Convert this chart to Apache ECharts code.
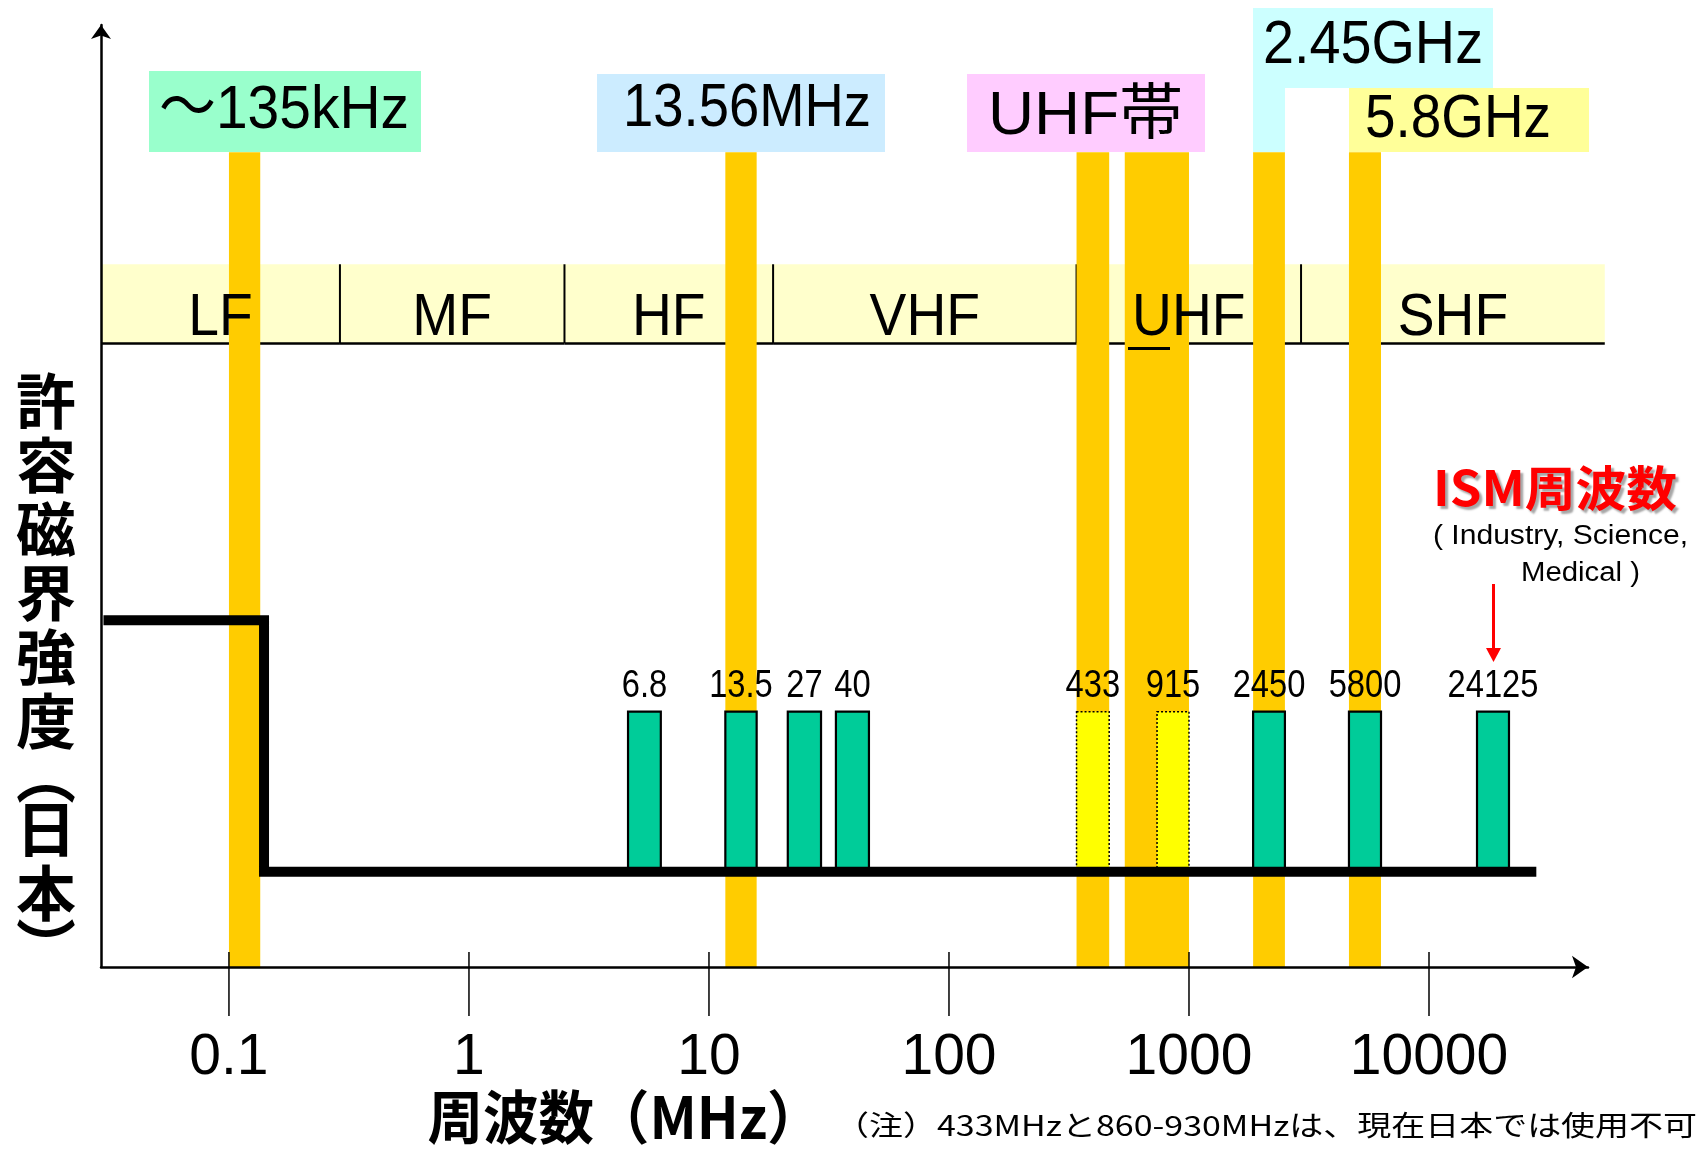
<!DOCTYPE html>
<html><head><meta charset="utf-8">
<script src="https://cdn.jsdelivr.net/npm/echarts@6/dist/echarts.min.js"></script>
<style>html,body{margin:0;padding:0;background:#fff}#c{width:1703px;height:1150px}</style>
</head><body><div id="c"></div>
<script>
// ---------------- data (frequencies in MHz) ----------------
const tickValues = [0.1, 1, 10, 100, 1000, 10000];
const tickLabels = ['0.1', '1', '10', '100', '1000', '10000'];
const xRange = [0.0293, 45970];

const bandNames = ['LF', 'MF', 'HF', 'VHF', 'UHF', 'SHF'];
const bandEdges = [0.0293, 0.29, 2.5, 18.5, 340, 2930, 54000];

const rfidLo = [0.1, 11.7, 340, 540, 1850, 4640];
const rfidHi = [0.135, 15.8, 465, 1000, 2510, 6310];

const ismLabels = ['6.8', '13.5', '27', '40', '433', '915', '2450', '5800', '24125'];
const ismLo = [4.6, 11.7, 21.3, 33.8, 340, 736, 1850, 4640, 15850];
const ismHi = [6.3, 15.8, 29.3, 46.4, 465, 1000, 2510, 6310, 21540];
const ismUsableInJapan = [1, 1, 1, 1, 0, 0, 1, 1, 1];

const limitFreq = [0.03, 0.14, 0.14, 28000];
const limitLevel = [36.8, 36.8, 10.1, 10.1];

const ismTop = 27.1;
const rfidTop = 86.5;
const rowTop = 74.6;
const rowBottom = 66.2;

const calloutTexts = ['～135kHz', '13.56MHz', 'UHF帯', '2.45GHz', '5.8GHz'];
const yTitleChars = ['許', '容', '磁', '界', '強', '度', '︵', '日', '本', '︶'];
const xTitle = '周波数（MHz）';
const noteText = '（注）433MHzと860-930MHzは、現在日本では使用不可';
const ismTitle = 'ISM周波数';
const ismSub1 = '( Industry, Science,';
const ismSub2 = 'Medical )';

// ---------------- helpers ----------------
const LAT = '"Liberation Sans", "Noto Sans CJK JP", sans-serif';
const CJK = '"Noto Sans CJK JP", "Liberation Sans", sans-serif';
const mctx = document.createElement('canvas').getContext('2d');
function fit(text, font, width) { mctx.font = font; return width / mctx.measureText(text).width; }
function txt(text, x, y, size, family, weight, width, extra) {
  const font = (weight || 'normal') + ' ' + size + 'px ' + family;
  const sx = width ? fit(text, font, width) : 1;
  return Object.assign({ type: 'text', x: x, y: y, scaleX: sx, z: 100,
    style: Object.assign({ text: text, font: font, fill: '#000', align: 'center', verticalAlign: 'middle' }, extra || {}) });
}

const chart = echarts.init(document.getElementById('c'), null, { renderer: 'canvas' });

const regionData = bandNames.map((n, i) => [bandEdges[i], bandEdges[i + 1], i]);
const rfidData = rfidLo.map((lo, i) => [lo, rfidHi[i], i]);
const ismData = ismLo.map((lo, i) => [lo, ismHi[i], i]);

const option = {
  animation: false,
  backgroundColor: '#fff',
  grid: { left: 101, right: 115, top: 25, bottom: 183, containLabel: false, outerBoundsMode: 'none' },
  xAxis: {
    type: 'log', logBase: 10, min: xRange[0], max: xRange[1], z: 10,
    axisLine: { show: true, symbol: ['none', 'arrow'], symbolSize: [17, 16], lineStyle: { color: '#000', width: 2.5 } },
    axisTick: { show: false }, splitLine: { show: false }, minorTick: { show: false },
    axisLabel: {
      show: true, margin: 63, fontSize: 57, fontFamily: LAT, color: '#000',
      formatter: function (v) {
        const e = Math.log10(v); const r = Math.round(e);
        if (Math.abs(e - r) > 1e-6) return '';
        const k = tickValues.findIndex(t => Math.abs(Math.log10(t) - r) < 1e-6);
        return k >= 0 ? tickLabels[k] : '';
      }
    }
  },
  yAxis: {
    type: 'value', min: 0, max: 100, z: 10,
    axisLine: { show: true, symbol: ['none', 'arrow'], symbolSize: [15, 14], lineStyle: { color: '#000', width: 2.5 } },
    axisTick: { show: false }, axisLabel: { show: false }, splitLine: { show: false }
  },
  series: [
    { // band row background + separators
      type: 'custom', z: 1, silent: true, data: regionData, encode: { x: [0, 1] },
      renderItem: function (params, api) {
        const i = api.value(2);
        const p0 = api.coord([api.value(0), rowTop]);
        const p1 = api.coord([api.value(1), rowBottom]);
        const ch = [
          { type: 'rect', shape: { x: p0[0], y: p0[1], width: p1[0] - p0[0], height: p1[1] - p0[1] }, style: { fill: '#FFFFCC' } },
          { type: 'line', shape: { x1: p0[0], y1: p1[1], x2: p1[0], y2: p1[1] }, style: { stroke: '#000', lineWidth: 2.5 } }
        ];
        if (i > 0) ch.push({ type: 'line', shape: { x1: p0[0], y1: p0[1], x2: p0[0], y2: p1[1] }, style: { stroke: '#000', lineWidth: 2 } });
        return { type: 'group', children: ch };
      }
    },
    { // RFID frequency columns
      type: 'custom', z: 2, silent: true, data: rfidData, encode: { x: [0, 1] },
      renderItem: function (params, api) {
        const p0 = api.coord([api.value(0), rfidTop]);
        const p1 = api.coord([api.value(1), 0]);
        return { type: 'rect', shape: { x: p0[0], y: p0[1], width: p1[0] - p0[0], height: p1[1] - p0[1] }, style: { fill: '#FFCC00' } };
      }
    },
    { // band names
      type: 'custom', z: 3, silent: true, data: regionData, encode: { x: [0, 1] },
      renderItem: function (params, api) {
        const i = api.value(2);
        const p0 = api.coord([api.value(0), rowTop]);
        const p1 = api.coord([api.value(1), rowBottom]);
        return { type: 'text', x: (p0[0] + p1[0]) / 2, y: p1[1] - 24.5, scaleX: 0.92,
          style: { text: bandNames[i], font: 'normal 60px ' + LAT, fill: '#000', align: 'center', verticalAlign: 'middle' } };
      }
    },
    { // ISM bars
      type: 'custom', z: 4, silent: true, data: ismData, encode: { x: [0, 1] },
      renderItem: function (params, api) {
        const i = api.value(2);
        const p0 = api.coord([api.value(0), ismTop]);
        const p1 = api.coord([api.value(1), limitLevel[2]]);
        const ok = ismUsableInJapan[i];
        return { type: 'group', children: [
          { type: 'rect', shape: { x: p0[0], y: p0[1], width: p1[0] - p0[0], height: p1[1] - p0[1] },
            style: { fill: ok ? '#00CC99' : '#FFFF00', stroke: '#000', lineWidth: ok ? 2.2 : 1.5, lineDash: ok ? null : [2, 2] } },
          { type: 'text', x: (p0[0] + p1[0]) / 2, y: p0[1] - 25, scaleX: 0.86,
            style: { text: ismLabels[i], font: 'normal 38px ' + LAT, fill: '#000', align: 'center', verticalAlign: 'middle' } }
        ] };
      }
    },
    { // allowed field strength limit
      type: 'line', z: 5, silent: true, symbol: 'none', showSymbol: false,
      data: limitFreq.map((f, i) => [f, limitLevel[i]]),
      lineStyle: { color: '#000', width: 10, cap: 'butt', join: 'miter' }
    },
    { // axis ticks (crossing the axis line)
      type: 'custom', z: 6, silent: true, data: tickValues.map(v => [v, 0]), encode: { x: 0, y: 1 },
      renderItem: function (params, api) {
        const p = api.coord([api.value(0), 0]);
        return { type: 'line', shape: { x1: p[0], y1: p[1] - 15, x2: p[0], y2: p[1] + 49 }, style: { stroke: '#000', lineWidth: 1.5 } };
      }
    }
  ],
  graphic: []
};

const g = [];
// callout boxes
g.push({ type: 'rect', z: 90, shape: { x: 149, y: 71, width: 272, height: 81 }, style: { fill: '#99FFCC' } });
g.push({ type: 'rect', z: 90, shape: { x: 597, y: 74, width: 288, height: 78 }, style: { fill: '#CCECFF' } });
g.push({ type: 'rect', z: 90, shape: { x: 967, y: 74, width: 238, height: 78 }, style: { fill: '#FFCCFF' } });
g.push({ type: 'rect', z: 90, shape: { x: 1253, y: 8, width: 240, height: 80 }, style: { fill: '#CCFFFF' } });
g.push({ type: 'rect', z: 90, shape: { x: 1253, y: 88, width: 32, height: 64 }, style: { fill: '#CCFFFF' } });
g.push({ type: 'rect', z: 90, shape: { x: 1349, y: 88, width: 240, height: 64 }, style: { fill: '#FFFF99' } });
g.push(txt(calloutTexts[0], 284, 111.5, 61, LAT, 'normal', 250));
g.push(txt(calloutTexts[1], 747, 109.5, 61, LAT, 'normal', 248));
g.push(txt(calloutTexts[2], 1085.5, 117.5, 61, LAT, 'normal', 195));
g.push(txt(calloutTexts[3], 1373, 46.5, 61, LAT, 'normal', 220));
g.push(txt(calloutTexts[4], 1458, 120, 61, LAT, 'normal', 186));
// underline under the U of UHF
g.push({ type: 'line', z: 100, shape: { x1: 1128, y1: 348.5, x2: 1170, y2: 348.5 }, style: { stroke: '#000', lineWidth: 3 } });
// y title (vertical)
const rich = {
  c: { fontSize: 60, fontWeight: 'bold', fontFamily: CJK, lineHeight: 64, fill: '#000', align: 'center' },
  p: { fontSize: 60, fontWeight: 'bold', fontFamily: CJK, lineHeight: 44, fill: '#000', align: 'center' }
};
const yTitle = yTitleChars.map(c => (c === '︵' || c === '︶') ? '{p|' + c + '}' : '{c|' + c + '}').join('\n');
g.push({ type: 'text', z: 100, x: 46, y: 369, style: { text: yTitle, rich: rich, align: 'center', verticalAlign: 'top' } });
// x title
g.push(txt(xTitle, 625, 1117, 58, CJK, 'bold', 395));
// note
g.push(txt(noteText, 1266, 1125, 28, CJK, 'normal', 862));
// ISM annotation
g.push(txt(ismTitle, 1555, 488, 48, CJK, 'bold', 244, { fill: '#FF0000', textShadowColor: 'rgba(0,0,0,0.35)', textShadowBlur: 2, textShadowOffsetX: 3, textShadowOffsetY: 3 }));
g.push(txt(ismSub1, 1560.5, 537, 27, LAT, 'normal', 255));
g.push(txt(ismSub2, 1580.5, 574, 27, LAT, 'normal', 119));
g.push({ type: 'line', z: 100, shape: { x1: 1493.5, y1: 584, x2: 1493.5, y2: 650 }, style: { stroke: '#FF0000', lineWidth: 3 } });
g.push({ type: 'polygon', z: 100, shape: { points: [[1486, 648], [1501, 648], [1493.5, 662]] }, style: { fill: '#FF0000' } });
option.graphic = g;

chart.setOption(option);
</script>
</body></html>
